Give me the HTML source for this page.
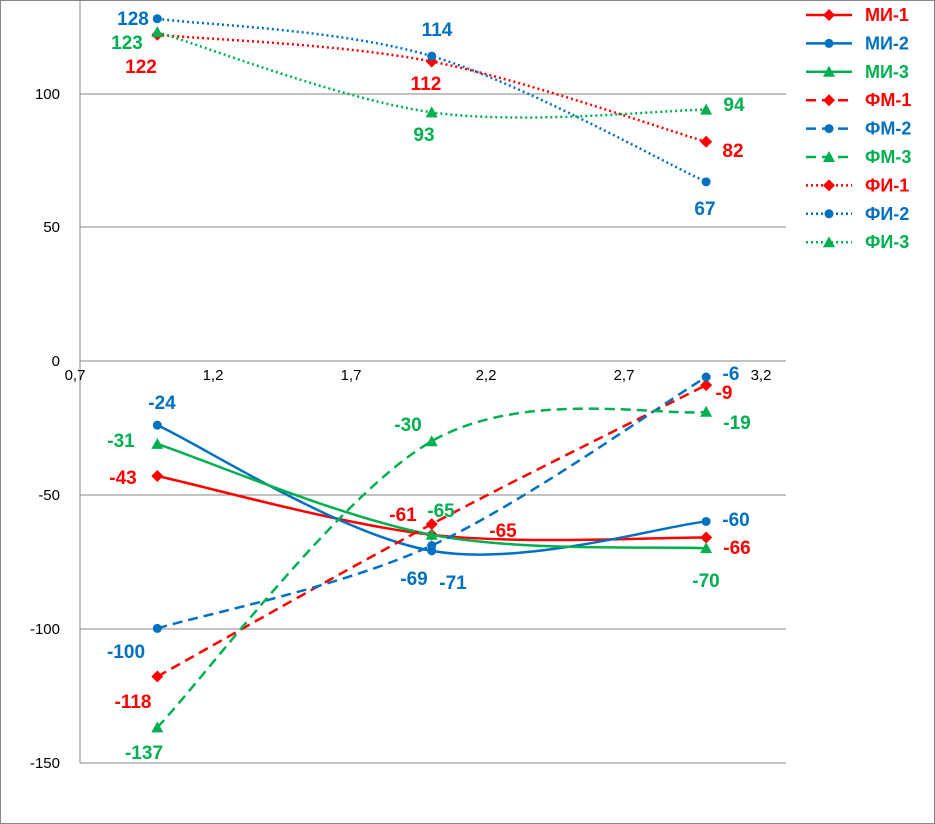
<!DOCTYPE html>
<html><head><meta charset="utf-8"><style>
body{margin:0;background:#fff}
svg{display:block}
text{font-family:"Liberation Sans",sans-serif}
</style></head><body>
<svg id="s" width="935" height="824" xmlns="http://www.w3.org/2000/svg">
<rect x="0.5" y="0.5" width="934" height="823" fill="#fff" stroke="#868686"/>
<g stroke="#868686" stroke-width="1">
<line x1="80" y1="94" x2="786" y2="94"/>
<line x1="80" y1="227" x2="786" y2="227"/>
<line x1="80" y1="495" x2="786" y2="495"/>
<line x1="80" y1="629" x2="786" y2="629"/>
<line x1="80" y1="763" x2="786" y2="763"/>
<line x1="80" y1="361" x2="786" y2="361"/>
<line x1="80" y1="0" x2="80" y2="763"/>
</g>
<g font-size="15" fill="#000" text-anchor="end">
<text x="60" y="99">100</text><text x="60" y="232">50</text><text x="60" y="366">0</text>
<text x="60" y="500">-50</text><text x="60" y="634">-100</text><text x="60" y="768">-150</text>
</g>
<g font-size="15" fill="#000" text-anchor="middle">
<text x="75" y="380">0,7</text><text x="213" y="380">1,2</text><text x="351" y="380">1,7</text>
<text x="486" y="380">2,2</text><text x="624" y="380">2,7</text><text x="761" y="380">3,2</text>
</g>
<g id="series"></g>
<g font-size="19" font-weight="bold" text-anchor="middle">
<text x="133" y="25" fill="#0070C0">128</text>
<text x="127" y="49" fill="#00B050">123</text>
<text x="141" y="73" fill="#FF0000">122</text>
<text x="437" y="36" fill="#0070C0">114</text>
<text x="426" y="90" fill="#FF0000">112</text>
<text x="424" y="141" fill="#00B050">93</text>
<text x="734" y="111" fill="#00B050">94</text>
<text x="733" y="157" fill="#FF0000">82</text>
<text x="705" y="215" fill="#0070C0">67</text>
<text x="162" y="409" fill="#0070C0">-24</text>
<text x="121" y="447" fill="#00B050">-31</text>
<text x="123" y="484" fill="#FF0000">-43</text>
<text x="126" y="658" fill="#0070C0">-100</text>
<text x="133" y="708" fill="#FF0000">-118</text>
<text x="144" y="759" fill="#00B050">-137</text>
<text x="408" y="431" fill="#00B050">-30</text>
<text x="403" y="521" fill="#FF0000">-61</text>
<text x="441" y="517" fill="#00B050">-65</text>
<text x="503" y="537" fill="#FF0000">-65</text>
<text x="414" y="585" fill="#0070C0">-69</text>
<text x="453" y="589" fill="#0070C0">-71</text>
<text x="736" y="526" fill="#0070C0">-60</text>
<text x="737" y="554" fill="#FF0000">-66</text>
<text x="706" y="587" fill="#00B050">-70</text>
<text x="731" y="380" fill="#0070C0">-6</text>
<text x="724" y="399" fill="#FF0000">-9</text>
<text x="737" y="429" fill="#00B050">-19</text>
</g>
<g id="legend" font-size="18" font-weight="bold"></g>
</svg>
<script>
var R="#FF0000",B="#0070C0",G="#00B050";
var S=[["МИ-1",R,"",[-43,-65,-66],"d"],["МИ-2",B,"",[-24,-71,-60],"c"],["МИ-3",G,"",[-31,-65,-70],"t"],
["ФМ-1",R,"10,6",[-118,-61,-9],"d"],["ФМ-2",B,"10,6",[-100,-69,-6],"c"],["ФМ-3",G,"10,6",[-137,-30,-19],"t"],
["ФИ-1",R,"2,3",[122,112,82],"d"],["ФИ-2",B,"2,3",[128,114,67],"c"],["ФИ-3",G,"2,3",[123,93,94],"t"]];
function X(v){return 75+(v-0.7)*274.4}function Y(v){return 361-2.674*v}
function mk(t,x,y,c){if(t=="d")return '<polygon points="'+x+','+(y-6)+' '+(x+6)+','+y+' '+x+','+(y+6)+' '+(x-6)+','+y+'" fill="'+c+'"/>';
if(t=="c")return '<circle cx="'+x+'" cy="'+y+'" r="4.5" fill="'+c+'"/>';
return '<polygon points="'+x+','+(y-6)+' '+(x+6)+','+(y+5)+' '+(x-6)+','+(y+5)+'" fill="'+c+'"/>';}
var h="",l="";
S.forEach(function(s,i){var p=s[3].map(function(v,k){return[X(k+1),Y(v)]});
var a=p[0],b=p[1],c=p[2],t=1/6;
var d="M"+a+" C"+(a[0]+(b[0]-a[0])*t)+","+(a[1]+(b[1]-a[1])*t)+" "+(b[0]-(c[0]-a[0])*t)+","+(b[1]-(c[1]-a[1])*t)+" "+b+
" C"+(b[0]+(c[0]-a[0])*t)+","+(b[1]+(c[1]-a[1])*t)+" "+(c[0]-(c[0]-b[0])*t)+","+(c[1]-(c[1]-b[1])*t)+" "+c;
h+='<path d="'+d+'" fill="none" stroke="'+s[1]+'" stroke-width="2.5"'+(s[2]?' stroke-dasharray="'+s[2]+'"':'')+'/>';
p.forEach(function(q){h+=mk(s[4],q[0],q[1],s[1])});
var y=15+i*28.4;
l+='<line x1="806" y1="'+y+'" x2="852" y2="'+y+'" stroke="'+s[1]+'" stroke-width="2.5"'+(s[2]?' stroke-dasharray="'+s[2]+'"':'')+'/>'+mk(s[4],829,y,s[1])+
'<text x="865" y="'+(y+6)+'" fill="'+s[1]+'">'+s[0]+'</text>';});
document.getElementById("series").innerHTML=h;document.getElementById("legend").innerHTML=l;
</script>
</body></html>
